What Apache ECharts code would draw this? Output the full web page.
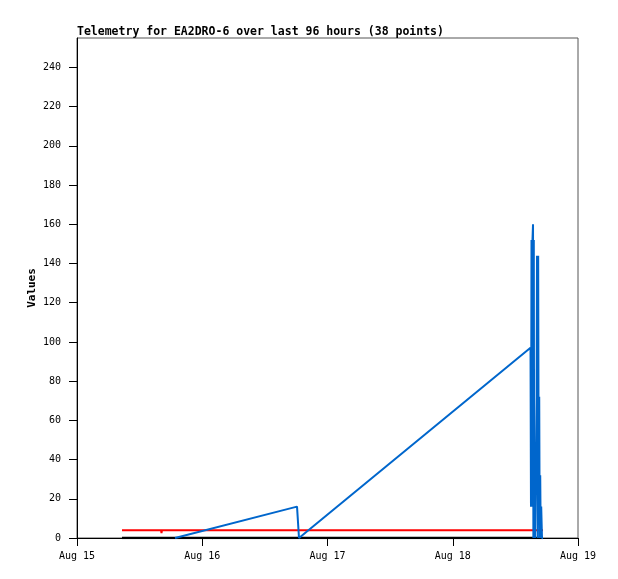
<!DOCTYPE html>
<html>
<head>
<meta charset="utf-8">
<script src="https://cdn.jsdelivr.net/npm/echarts@6/dist/echarts.min.js"></script>
<style>html,body{margin:0;padding:0;background:#fff}#c{width:618px;height:579px}</style>
</head>
<body>
<div id="c"></div>
<script>
// Hours since Aug 15 00:00
var hours = [8.62, 16.10, 16.19, 16.29, 18.78, 42.16, 42.54,
  86.90, 86.99, 87.09, 87.18, 87.28, 87.38, 87.45, 87.53, 87.61, 87.68, 87.76,
  87.99, 88.07, 88.14, 88.26, 88.37, 88.47, 88.57, 88.66, 88.76, 88.86, 88.95, 89.10, 89.29];
var blueValues = [null, null, null, null, 0, 16, 0,
  97, 16, 152, 16, 152, 160, 0, 152, 0, 16, 0,
  0, 72, 144, 0, 144, 16, 72, 0, 32, 0, 16, 0, 0];
var redValues = [4, 4, 2.5, 4, 4, 4, 4,
  4, 4, 4, 4, 4, 4, 4, 4, 4, 4, 4,
  4, 4, 4, 4, 4, 4, 4, 4, 4, 4, 4, 4, 4];
var blackValues = [0, 0, 0, 0, 0, 0, 0,
  0, 0, 0, 0, 0, 0, 0, 0, 0, 0, 0,
  0, 0, 0, 0, 0, 0, 0, 0, 0, 0, 0, 0, 0];
var xTickHours = [0, 24, 48, 72, 96];
var xTickLabels = ['Aug 15', 'Aug 16', 'Aug 17', 'Aug 18', 'Aug 19'];
var yTicks = [0, 20, 40, 60, 80, 100, 120, 140, 160, 180, 200, 220, 240];
var titleText = 'Telemetry for EA2DRO-6 over last 96 hours (38 points)';

function pairs(vals) {
  return hours.map(function (h, i) { return [h, vals[i]]; });
}
var font = 'DejaVu Sans Mono';
var chart = echarts.init(document.getElementById('c'), null, {renderer: 'canvas'});
chart.setOption({
  animation: false,
  backgroundColor: '#fff',
  title: {
    text: titleText, left: 72, top: 21,
    textStyle: {fontFamily: font, fontSize: 11.5, fontWeight: 'bold', color: '#000'}
  },
  grid: {left: 77, top: 38, right: 40, bottom: 41, show: true, borderColor: '#555', borderWidth: 1, containLabel: false},
  xAxis: {
    type: 'value', min: 0, max: 96, interval: 24,
    axisLine: {show: true, onZero: false, lineStyle: {color: '#000', width: 1}},
    axisTick: {show: true, length: 8, lineStyle: {color: '#000'}, customValues: xTickHours},
    axisLabel: {
      customValues: xTickHours,
      margin: 13, fontFamily: font, fontSize: 10, color: '#000',
      formatter: function (v) { var i = xTickHours.indexOf(v); return i >= 0 ? xTickLabels[i] : ''; }
    },
    splitLine: {show: false}
  },
  yAxis: {
    type: 'value', min: 0, max: 255, interval: 20,
    name: 'Values', nameLocation: 'middle', nameGap: 39, nameRotate: 90, nameMoveOverlap: false,
    nameTextStyle: {fontFamily: font, fontSize: 11, fontWeight: 'bold', color: '#000'},
    axisLine: {show: true, lineStyle: {color: '#000', width: 1}},
    axisTick: {show: true, length: 8, lineStyle: {color: '#000'}, customValues: yTicks},
    axisLabel: {customValues: yTicks, margin: 16, fontFamily: font, fontSize: 10, color: '#000'},
    splitLine: {show: false}
  },
  series: [
    {type: 'line', data: pairs(redValues), showSymbol: false, symbol: 'none', lineStyle: {color: '#ff0000', width: 2}, z: 2},
    {type: 'line', data: pairs(blackValues), showSymbol: false, symbol: 'none', lineStyle: {color: '#000000', width: 2.5}, z: 3},
    {type: 'line', data: pairs(blueValues), showSymbol: false, symbol: 'none', lineStyle: {color: '#0066cc', width: 2}, z: 4, connectNulls: false}
  ]
});
</script>
</body>
</html>
